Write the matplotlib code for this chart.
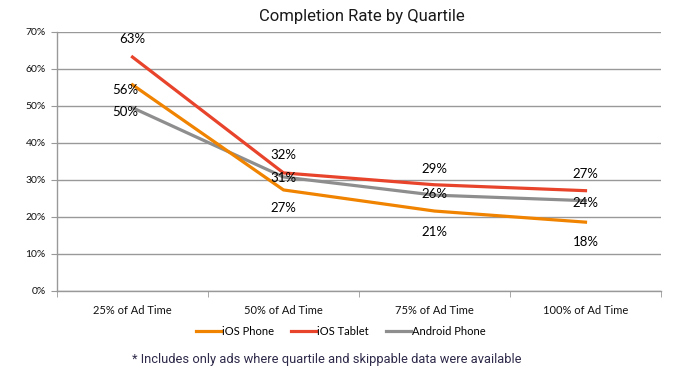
import matplotlib
matplotlib.use("Agg")
import matplotlib.pyplot as plt
from matplotlib.ticker import PercentFormatter

# DATA
quartiles = ["25% of Ad Time", "50% of Ad Time", "75% of Ad Time", "100% of Ad Time"]
ios_phone = [0.557, 0.273, 0.216, 0.186]
ios_tablet = [0.632, 0.319, 0.287, 0.271]
android_phone = [0.495, 0.308, 0.259, 0.244]
phone_labels = ["56%", "27%", "21%", "18%"]
tablet_labels = ["63%", "32%", "29%", "27%"]
android_labels = ["50%", "31%", "26%", "24%"]

# STYLE
ORANGE = "#F08300"
RED = "#E8432B"
GRAY = "#8E8E8E"
plt.rcParams["font.family"] = ["Lato", "DejaVu Sans"]

fig = plt.figure(figsize=(7, 3.75), dpi=100)
ax = fig.add_axes([0.0814, 0.224, 0.8629, 0.691])

x = range(len(quartiles))
ax.plot(x, ios_phone, color=ORANGE, lw=2.3, label="iOS Phone", zorder=3)
ax.plot(x, ios_tablet, color=RED, lw=2.3, label="iOS Tablet", zorder=3)
ax.plot(x, android_phone, color=GRAY, lw=2.3, label="Android Phone", zorder=2)

# data labels (offsets in points)
series = [
    (ios_tablet, tablet_labels, [(0, 13), (0, 13), (0, 11), (0, 12)]),
    (ios_phone, phone_labels, [(-5, -4), (0, -13), (0, -15), (0, -14)]),
    (android_phone, android_labels, [(-5, -3), (0, -1), (0, 1), (0, -2)]),
]
for vals, labs, offs in series:
    for i, (v, t, o) in enumerate(zip(vals, labs, offs)):
        ax.annotate(t, (i, v), xytext=o, textcoords="offset points",
                    ha="center", va="center", fontsize=9.5, color="black", zorder=5)

ax.set_xlim(-0.5, 3.5)
ax.set_ylim(0, 0.7)
ax.set_yticks([i / 10 for i in range(8)])
ax.yaxis.set_major_formatter(PercentFormatter(1.0, decimals=0))
ax.set_xticks(list(x))
ax.set_xticklabels(quartiles, fontsize=8, color="#111111")
ax.set_xticks([-0.5, 0.5, 1.5, 2.5, 3.5], minor=True)
ax.tick_params(axis="x", which="major", length=0, pad=10)
ax.tick_params(axis="x", which="minor", length=4, color="#999999", direction="out")
ax.tick_params(axis="y", length=4, color="#999999", labelsize=7.5, pad=4,
               labelcolor="#111111")

ax.grid(axis="y", color="#999999", lw=1)
ax.set_axisbelow(True)
for s in ["top", "right"]:
    ax.spines[s].set_visible(False)
ax.spines["left"].set_color("#999999")
ax.spines["bottom"].set_color("#999999")
ax.spines["left"].set_linewidth(1)
ax.spines["bottom"].set_linewidth(1)

fig.text(0.517, 0.955, "Completion Rate by Quartile", ha="center", va="center",
         fontsize=12, color="#1A1A1A", family=["Roboto", "DejaVu Sans"])

ax.legend(loc="center", bbox_to_anchor=(0.47, -0.155), ncol=3, frameon=False,
          fontsize=8, handlelength=2.2, handletextpad=0.1, columnspacing=1.6)

fig.text(0.467, 0.04, "* Includes only ads where quartile and skippable data were available",
         ha="center", va="center", fontsize=9.3, color="#2E2A4A",
         family=["Roboto", "DejaVu Sans"])

fig.savefig("out.png", dpi=100)
